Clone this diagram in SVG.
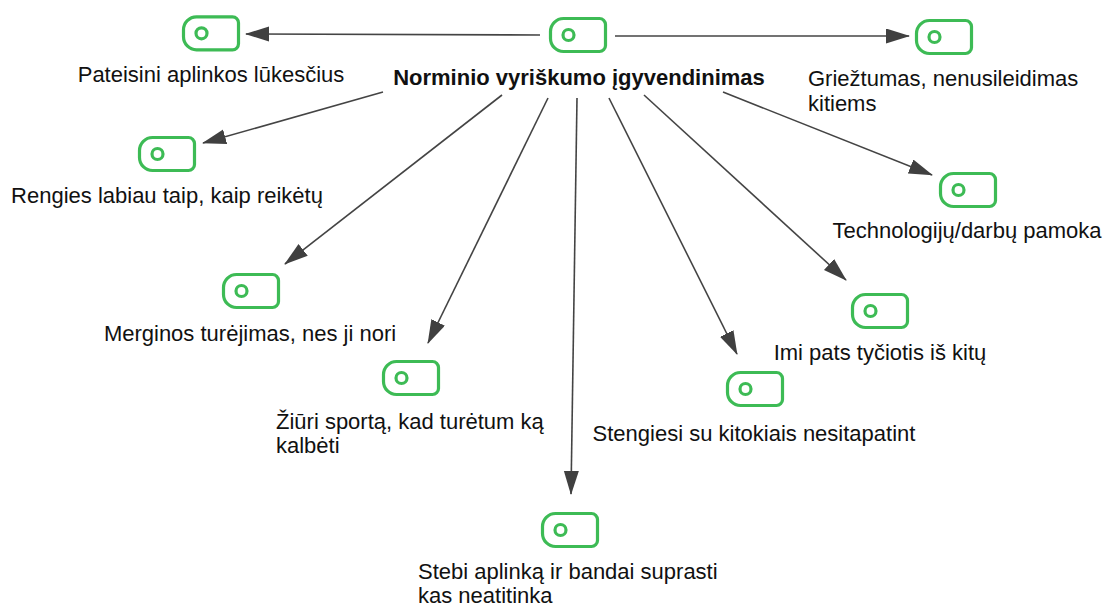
<svg xmlns="http://www.w3.org/2000/svg" xmlns:xlink="http://www.w3.org/1999/xlink" width="1107" height="607" viewBox="0 0 1107 607">
<style>
  .lbl { font-family: "Liberation Sans", Arial, sans-serif; font-size: 22px; fill: #111; }
  .title { font-weight: bold; }
  .mid { text-anchor: middle; }
  .edge { stroke: #444; stroke-width: 1.6; fill: none; marker-end: url(#arrow); }
  .ic { fill: none; stroke: #3dbb55; stroke-width: 3.2; }
</style>
<defs>
  <marker id="arrow" markerUnits="userSpaceOnUse" markerWidth="24" markerHeight="16" refX="23" refY="7.5" orient="auto">
    <path d="M0,0 L24,7.5 L0,15 Z" fill="#404040"/>
  </marker>
  <g id="icon">
    <path class="ic" d="M13,0 H49 A6,6 0 0 1 55,6 V27 A6,6 0 0 1 49,33 H13 A13,13 0 0 1 0,20 V13 A13,13 0 0 1 13,0 Z"/>
    <circle class="ic" cx="18" cy="16.5" r="5.5"/>
  </g>
</defs>
<rect width="1107" height="607" fill="#ffffff"/>
<g id="connectors">
  <line class="edge" x1="540" y1="35" x2="246" y2="34"/>
  <line class="edge" x1="615" y1="36" x2="909" y2="36"/>
  <line class="edge" x1="383" y1="92" x2="203" y2="143"/>
  <line class="edge" x1="502" y1="95" x2="285" y2="264"/>
  <line class="edge" x1="548" y1="98" x2="428" y2="343"/>
  <line class="edge" x1="577" y1="98" x2="571" y2="494"/>
  <line class="edge" x1="609" y1="98" x2="737" y2="354"/>
  <line class="edge" x1="644" y1="95" x2="846" y2="280"/>
  <line class="edge" x1="723" y1="92" x2="932" y2="175"/>
</g>
<g id="node-center">
  <use xlink:href="#icon" transform="translate(550.5,18.5)"/>
  <text class="lbl title mid" x="579" y="85">Norminio vyriškumo įgyvendinimas</text>
</g>
<g id="node-pateisini">
  <use xlink:href="#icon" transform="translate(183.5,16.8)"/>
  <text class="lbl mid" x="211" y="82">Pateisini aplinkos lūkesčius</text>
</g>
<g id="node-grieztumas">
  <use xlink:href="#icon" transform="translate(916.5,20.5)"/>
  <text class="lbl" x="808" y="86">Griežtumas, nenusileidimas</text>
  <text class="lbl" x="808" y="111">kitiems</text>
</g>
<g id="node-rengies">
  <use xlink:href="#icon" transform="translate(139.5,137.5)"/>
  <text class="lbl mid" x="167" y="203">Rengies labiau taip, kaip reikėtų</text>
</g>
<g id="node-merginos">
  <use xlink:href="#icon" transform="translate(223.5,274.5)"/>
  <text class="lbl mid" x="250" y="341">Merginos turėjimas, nes ji nori</text>
</g>
<g id="node-ziuri">
  <use xlink:href="#icon" transform="translate(383.5,361.5)"/>
  <text class="lbl" x="276" y="429">Žiūri sportą, kad turėtum ką</text>
  <text class="lbl" x="276" y="453">kalbėti</text>
</g>
<g id="node-stebi">
  <use xlink:href="#icon" transform="translate(542.5,513.5)"/>
  <text class="lbl" x="418" y="579">Stebi aplinką ir bandai suprasti</text>
  <text class="lbl" x="418" y="603">kas neatitinka</text>
</g>
<g id="node-technologiju">
  <use xlink:href="#icon" transform="translate(940.5,173.5)"/>
  <text class="lbl mid" x="967" y="238">Technologijų/darbų pamoka</text>
</g>
<g id="node-imi">
  <use xlink:href="#icon" transform="translate(852.5,294.5)"/>
  <text class="lbl mid" x="880" y="360">Imi pats tyčiotis iš kitų</text>
</g>
<g id="node-stengiesi">
  <use xlink:href="#icon" transform="translate(727.5,372.5)"/>
  <text class="lbl mid" x="754" y="441">Stengiesi su kitokiais nesitapatint</text>
</g>
</svg>
